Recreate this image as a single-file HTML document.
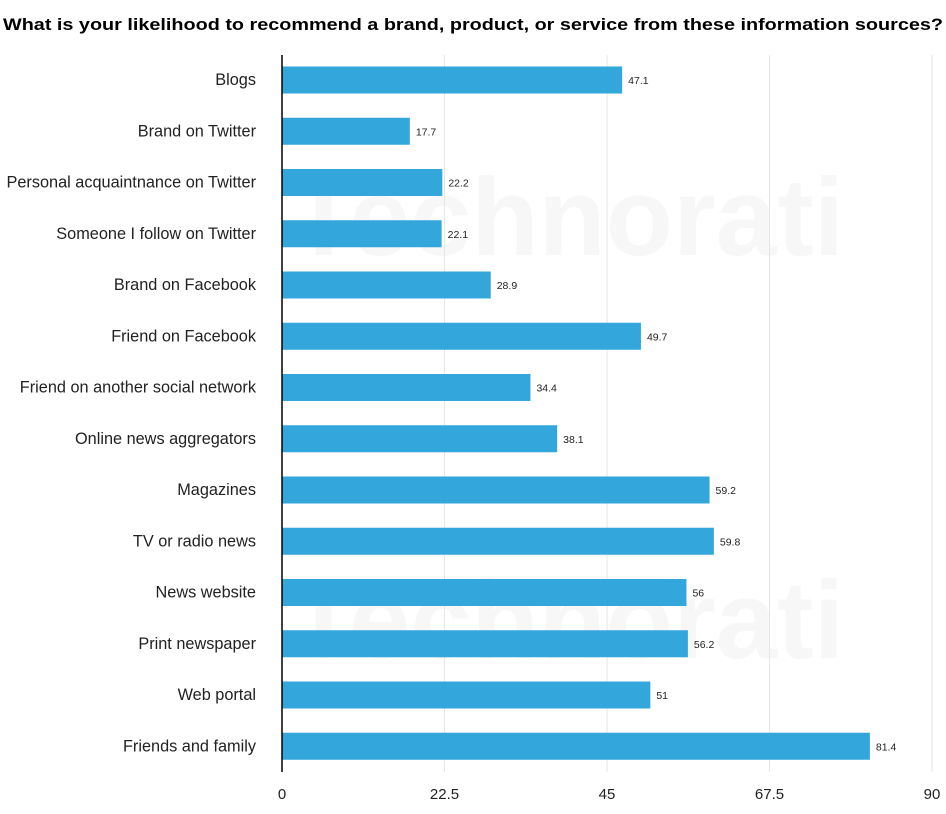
<!DOCTYPE html>
<html><head><meta charset="utf-8"><style>
body{margin:0;background:#fff;width:946px;height:814px;overflow:hidden;font-family:"Liberation Sans",sans-serif}
svg{display:block}
</style></head><body>
<svg width="946" height="814">
<text x="473" y="30" text-anchor="middle" font-size="16.6" font-weight="bold" fill="#000" textLength="940" lengthAdjust="spacingAndGlyphs">What is your likelihood to recommend a brand, product, or service from these information sources?</text>
<g id="wm" fill="#f7f7f7" font-size="110" font-weight="bold">
<text x="290" y="255">Technorati</text><text x="290" y="658">Technorati</text>
</g>
<g id="grid"></g>
<g id="bars"></g>
<g id="labels"></g>
<g id="ticks"></g>
<line x1="282" x2="282" y1="55" y2="772" stroke="#000" stroke-width="1.5"/>
</svg>
<script>
const categories=["Blogs","Brand on Twitter","Personal acquaintnance on Twitter","Someone I follow on Twitter","Brand on Facebook","Friend on Facebook","Friend on another social network","Online news aggregators","Magazines","TV or radio news","News website","Print newspaper","Web portal","Friends and family"];
const values=[47.1,17.7,22.2,22.1,28.9,49.7,34.4,38.1,59.2,59.8,56,56.2,51,81.4];
const tickValues=[0,22.5,45,67.5,90];
const tickLabels=["0","22.5","45","67.5","90"];
const NS="http://www.w3.org/2000/svg";
const x0=282,x1=932,xMax=90;
const xs=v=>x0+(v/xMax)*(x1-x0);
const yc=i=>80+i*51.25;
function mk(t,a,p){const e=document.createElementNS(NS,t);for(const k in a)e.setAttribute(k,a[k]);p.appendChild(e);return e;}
const g=document.getElementById('grid'),b=document.getElementById('bars'),l=document.getElementById('labels'),tk=document.getElementById('ticks');
tickValues.forEach((v,i)=>{
 if(v>0){const ln=mk('line',{x1:xs(v),x2:xs(v),y1:55,y2:772,stroke:'#e6e6e6','stroke-width':1},g);
 
 }
 const t=mk('text',{x:xs(v),y:799,'text-anchor':'middle','font-size':15,fill:'#222'},tk);t.textContent=tickLabels[i];
 
 
});
categories.forEach((c,i)=>{
 const r=mk('rect',{x:x0,y:yc(i)-13.5,width:xs(values[i])-x0,height:27,fill:'#33a6dc'},b);
 
 
 const v=mk('text',{x:xs(values[i])+6,y:yc(i)+4,'font-size':10.5,fill:'#222'},b);v.textContent=values[i];
 
 
 const t=mk('text',{x:256,y:yc(i)+5,'text-anchor':'end','font-size':16.3,fill:'#222'},l);t.textContent=c;
 
 
});
</script>
</body></html>
